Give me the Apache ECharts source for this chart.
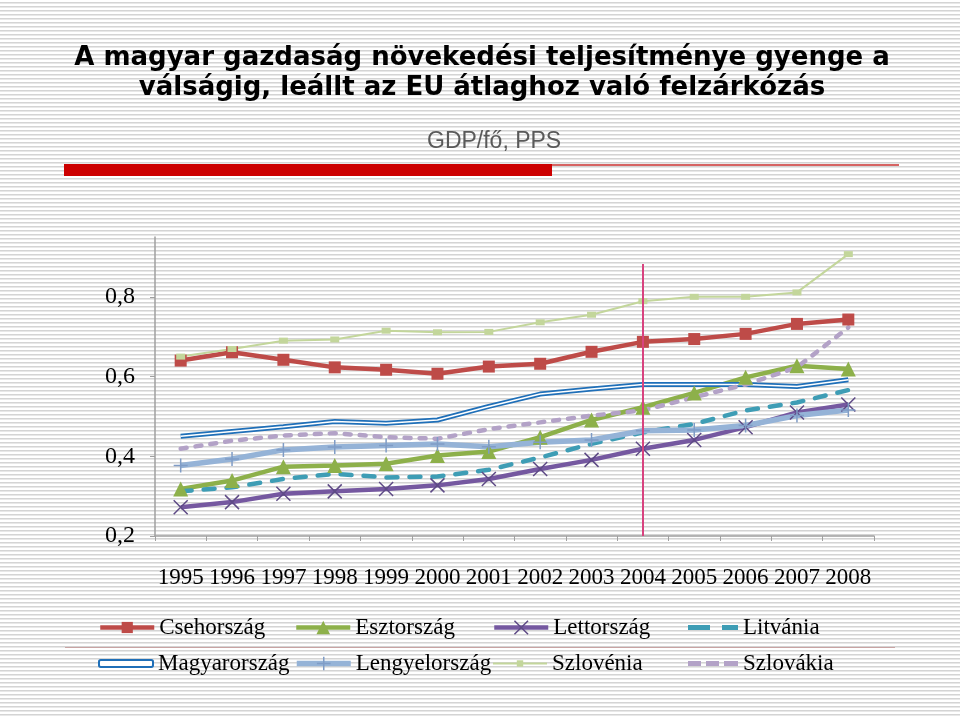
<!DOCTYPE html>
<html><head><meta charset="utf-8">
<script src="https://cdn.jsdelivr.net/npm/echarts@6/dist/echarts.min.js"></script>
<style>
html,body{margin:0;padding:0;width:960px;height:717px;overflow:hidden;
background:repeating-linear-gradient(to bottom,#ffffff 0px,#ffffff 2px,#d4d4d4 2px,#d4d4d4 3px,#e8e8e8 3px,#e8e8e8 4px);}
#c{width:960px;height:717px;}
</style></head><body><div id="c"></div>
<script>
const years = ['1995','1996','1997','1998','1999','2000','2001','2002','2003','2004','2005','2006','2007','2008'];
const yTicks = [0.2, 0.4, 0.6, 0.8];
const csehorszag   = [0.640,0.661,0.642,0.623,0.617,0.607,0.625,0.632,0.662,0.687,0.694,0.707,0.732,0.743];
const esztorszag   = [0.318,0.339,0.374,0.377,0.381,0.402,0.412,0.448,0.491,0.523,0.559,0.598,0.627,0.619];
const lettorszag   = [0.272,0.285,0.306,0.312,0.318,0.327,0.343,0.368,0.391,0.419,0.441,0.473,0.510,0.530];
const litvania     = [0.312,0.322,0.343,0.356,0.347,0.349,0.366,0.397,0.431,0.460,0.481,0.515,0.535,0.566];
const magyarorszag = [0.450,0.462,0.474,0.487,0.483,0.491,0.525,0.556,0.569,0.580,0.580,0.580,0.575,0.592];
const lengyelorszag= [0.377,0.393,0.416,0.423,0.427,0.431,0.424,0.435,0.441,0.464,0.466,0.477,0.502,0.516];
const szlovenia    = [0.650,0.669,0.690,0.693,0.715,0.711,0.712,0.736,0.755,0.789,0.800,0.800,0.811,0.907];
const szlovakia    = [0.419,0.439,0.452,0.458,0.448,0.444,0.468,0.485,0.502,0.515,0.548,0.580,0.623,0.723];
const accessionYear = '2004';

const serif = 'Liberation Serif';
const chart = echarts.init(document.getElementById('c'), null, {renderer:'canvas'});

function leg(name, left, cy, ih, iw, extra){
  return {
    data:[Object.assign({name:name}, extra||{})],
    left:left, top: cy - Math.max(ih, 24)/2,
    itemWidth: iw, itemHeight: ih, padding:0, selectedMode:false,
    textStyle:{fontFamily:serif, fontSize:23, color:'#000'}
  };
}

const option = {
  backgroundColor:'transparent',
  animation:false,
  title:{
    text:'A magyar gazdaság növekedési teljesítménye gyenge a\nválságig, leállt az EU átlaghoz való felzárkózás',
    left:477, top:38, textAlign:'center',
    textStyle:{fontFamily:'DejaVu Sans', fontWeight:'bold', fontSize:26, lineHeight:30, color:'#000'}
  },
  graphic:[
    {type:'text', left:427, top:130, style:{text:'GDP/fő, PPS', font:'23px "Liberation Sans"', fill:'#595959'}},
    {type:'rect', shape:{x:64, y:164, width:488, height:12}, style:{fill:'#cc0000'}},
    {type:'line', shape:{x1:552, y1:165, x2:899, y2:165}, style:{stroke:'#c8302f', lineWidth:1.5}},
    {type:'line', shape:{x1:65, y1:647.5, x2:895, y2:647.5}, style:{stroke:'#c9a3a3', lineWidth:1}}
  ],
  legend:[
    leg('Csehország', 98, 628, 14, 54, {lineStyle:{width:4.5}}),
    leg('Esztország', 294, 628, 17, 54, {lineStyle:{width:4.5}}),
    leg('Lettország', 492, 628, 17, 54, {lineStyle:{width:4.5}, itemStyle:{borderWidth:1.5, borderColor:'#5e4a86'}}),
    leg('Litvánia', 688, 628, 5, 50, {icon:'path://M0,0H22V5H0Z M34,0H50V5H34Z'}),
    leg('Magyarország', 98, 664, 7, 54, {icon:'roundRect', itemStyle:{color:'#ffffff', borderColor:'#1f6fb8', borderWidth:2}}),
    leg('Lengyelország', 294, 664, 17, 54, {lineStyle:{width:5.5}, itemStyle:{borderWidth:1.5, borderColor:'#7f9cc6'}}),
    leg('Szlovénia', 492, 664, 8, 54, {lineStyle:{width:2}}),
    leg('Szlovákia', 688, 664, 5, 50, {icon:'path://M0,0H13V5H0Z M18,0H31V5H18Z M36,0H50V5H36Z'})
  ],
  grid:{left:155, right:86, top:237, bottom:181, containLabel:false},
  xAxis:{
    type:'category', data:years, boundaryGap:true,
    axisLine:{lineStyle:{color:'#a0a0a0', width:1.5}},
    axisTick:{show:true, length:5, lineStyle:{color:'#a0a0a0'}},
    axisLabel:{interval:0, margin:30, fontFamily:serif, fontSize:23, color:'#000'},
    splitLine:{show:false}
  },
  yAxis:{
    type:'value', min:0.2, max:0.95,
    axisLine:{show:true, lineStyle:{color:'#a0a0a0', width:1.5}},
    axisTick:{show:true, length:5, lineStyle:{color:'#a0a0a0'}, customValues:yTicks},
    axisLabel:{margin:20, fontFamily:serif, fontSize:24, color:'#000', customValues:yTicks,
      formatter:function(v){return v.toFixed(1).replace('.',',');}},
    splitLine:{show:false}
  },
  series:[
    {name:'Csehország', type:'line', data:csehorszag, symbol:'rect', symbolSize:12, showAllSymbol:true,
      lineStyle:{color:'#be4b48', width:4.5}, itemStyle:{color:'#be4b48'}, z:3},
    {name:'Esztország', type:'line', data:esztorszag, symbol:'triangle', symbolSize:15,
      lineStyle:{color:'#8db04a', width:4.5}, itemStyle:{color:'#8db04a'}, z:3},
    {name:'Lettország', type:'line', data:lettorszag, symbol:'path://M0,0L10,10M10,0L0,10', symbolSize:14,
      lineStyle:{color:'#7558a0', width:4.5}, itemStyle:{color:'#7558a0', borderColor:'#5e4a86', borderWidth:1.5}, z:3},
    {name:'Litvánia', type:'line', data:litvania, symbol:'none',
      lineStyle:{color:'#3e9db5', width:4.5, type:[11,12], cap:'round'}, itemStyle:{color:'#3e9db5'}, z:3},
    {name:'Magyarország', type:'line', data:magyarorszag, symbol:'none',
      lineStyle:{color:'#1f6fb8', width:5}, itemStyle:{color:'#1f6fb8'}, z:3},
    {name:'MagyarInner', type:'line', data:magyarorszag, symbol:'none', silent:true,
      lineStyle:{color:'#ffffff', width:1.5}, itemStyle:{color:'#ffffff'}, z:3},
    {name:'Lengyelország', type:'line', data:lengyelorszag, symbol:'path://M5,0L5,10M0,5L10,5', symbolSize:14,
      lineStyle:{color:'#95b3d7', width:5.5}, itemStyle:{color:'#95b3d7', borderColor:'#7f9cc6', borderWidth:1.5}, z:3},
    {name:'Szlovénia', type:'line', data:szlovenia, symbol:'rect', symbolSize:[9,6],
      lineStyle:{color:'#c3d69b', width:2}, itemStyle:{color:'#c3d69b'}, z:3},
    {name:'Szlovákia', type:'line', data:szlovakia, symbol:'none',
      lineStyle:{color:'#b3a2c7', width:4.5, type:[6,9], cap:'round'}, itemStyle:{color:'#b3a2c7'}, z:3,
      markLine:{silent:true, symbol:['none','none'], label:{show:false},
        lineStyle:{color:'#d8437f', width:2, type:'solid'},
        data:[[{coord:[accessionYear, 0.882]},{coord:[accessionYear, 0.2]}]]}}
  ]
};
chart.setOption(option);
</script>
</body></html>
